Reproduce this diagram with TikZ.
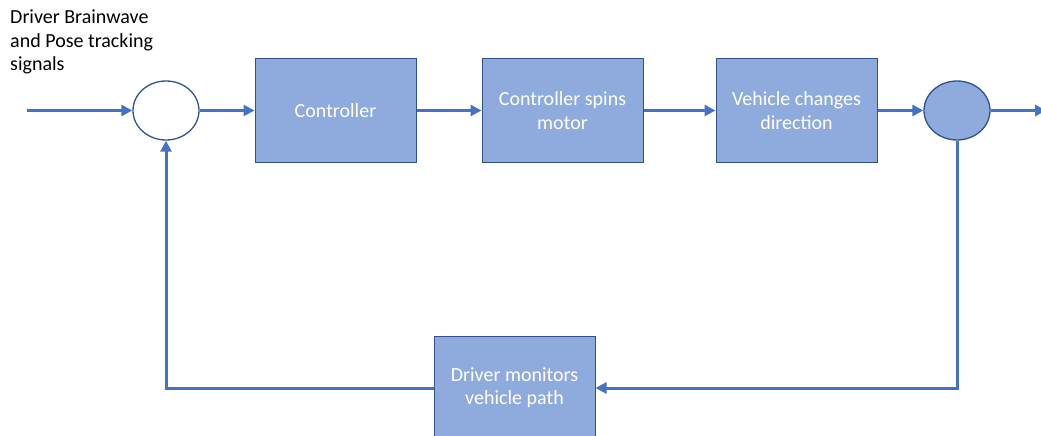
\documentclass[tikz,border=0pt]{standalone}
\usepackage{fontspec}
\setmainfont{Carlito}
\usetikzlibrary{arrows.meta,shapes.geometric,positioning}
\definecolor{lineblue}{HTML}{4472C4}
\definecolor{edgeblue}{HTML}{2F528F}
\definecolor{boxblue}{HTML}{8FAADC}

\begin{document}
\begin{tikzpicture}[
  x=1pt, y=1pt,
  font=\fontsize{20}{23.3}\selectfont,
  >={Triangle[length=11pt,width=11pt]},
  block/.style={rectangle, draw=edgeblue, line width=1pt, fill=boxblue,
                text=white, align=center, minimum width=161pt, minimum height=103pt},
  junction/.style={ellipse, draw=edgeblue, line width=1.3pt, inner sep=0pt,
                   minimum width=66pt, minimum height=59pt},
  flow/.style={->, draw=lineblue, line width=3pt},
]
\useasboundingbox (0,0) rectangle (1041,-436);

% forward path
\coordinate (in) at (27,-110.5);
\node[junction, fill=white] (sum) at (166,-110.5) {};
\node[block] (ctrl) at (335.5,-110.5) {Controller};
\node[block, right=65pt of ctrl] (motor) {Controller spins\\motor};
\node[block, right=72pt of motor] (veh) {Vehicle changes\\direction};
\node[junction, fill=boxblue] (out) at (957,-110.5) {};
\coordinate (end) at (1046,-110.5);

% feedback path
\node[block] (drv) at (514.5,-388) {Driver monitors\\vehicle path};

\node[anchor=north west, align=left, inner sep=0pt] (sig) at (10,-10)
  {Driver Brainwave\\and Pose tracking\\signals};

\draw[flow] (in) -- (sum.west);
\draw[flow] (sum.east) -- (ctrl.west);
\draw[flow] (ctrl) -- (motor);
\draw[flow] (motor) -- (veh);
\draw[flow] (veh.east) -- (out.west);
\draw[flow] (out.east) -- (end);
\draw[flow] (out.south) |- (drv.east);
\draw[flow] (drv.west) -| (sum.south);
\end{tikzpicture}
\end{document}
